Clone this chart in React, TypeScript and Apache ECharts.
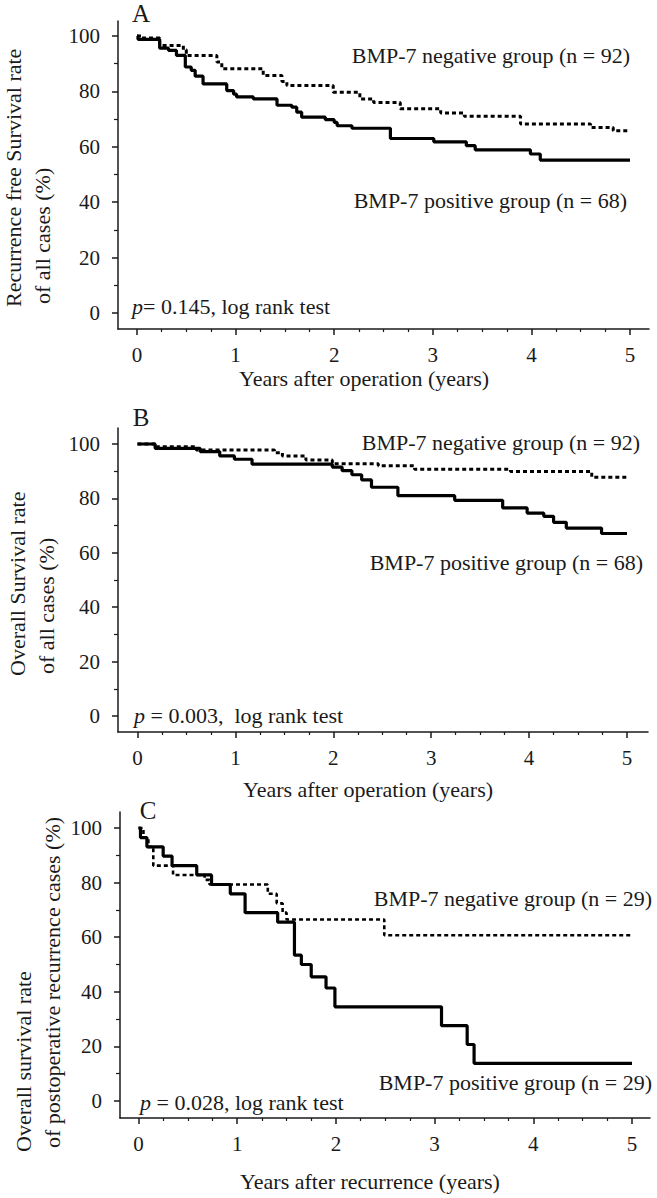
import React, { useEffect, useRef } from "react";
import * as echarts from "echarts";

// ---------- DATA ----------
// Panel A: recurrence-free survival, all cases
const aPosTime = [0, 0.01, 0.23, 0.32, 0.40, 0.49, 0.55, 0.59, 0.67, 0.91, 0.98, 1.01, 1.18, 1.42, 1.57, 1.62, 1.67, 1.91, 2.0, 2.03, 2.18, 2.57, 3.01, 3.34, 3.43, 3.99, 4.09, 5.0];
const aPosRate = [100, 98.8, 95.6, 94.8, 93.0, 88.8, 87.6, 85.5, 82.7, 80.3, 79.0, 78.0, 77.3, 75.0, 74.3, 72.5, 70.7, 69.8, 68.8, 67.6, 66.7, 63.0, 61.8, 60.4, 58.9, 57.4, 55.2, 55.2];
const aNegTime = [0, 0.05, 0.23, 0.47, 0.5, 0.81, 0.86, 1.28, 1.47, 1.52, 1.99, 2.26, 2.4, 2.67, 3.08, 3.32, 3.89, 4.6, 4.83, 5.0];
const aNegRate = [100, 99.3, 96.6, 95.0, 93.0, 90.6, 88.2, 85.7, 83.6, 82.1, 79.7, 77.3, 76.0, 73.7, 72.2, 71.0, 68.2, 67.0, 65.8, 65.8];

// Panel B: overall survival, all cases
const bPosTime = [0, 0.18, 0.64, 0.84, 0.99, 1.17, 1.99, 2.09, 2.19, 2.29, 2.39, 2.66, 3.24, 3.73, 3.98, 4.15, 4.25, 4.38, 4.74, 5.0];
const bPosRate = [100, 98.4, 97.2, 95.6, 94.4, 92.6, 91.5, 90.2, 88.7, 86.8, 84.1, 81.0, 79.3, 76.5, 74.6, 73.4, 71.2, 69.1, 67.1, 67.1];
const bNegTime = [0, 0.2, 0.6, 1.4, 1.48, 1.72, 1.99, 2.46, 2.83, 3.81, 4.64, 5.0];
const bNegRate = [100, 99.0, 97.8, 96.8, 95.6, 94.1, 92.7, 92.0, 90.7, 89.9, 87.8, 87.8];

// Panel C: overall survival, postoperative recurrence cases
const cPosTime = [0, 0.02, 0.085, 0.25, 0.34, 0.59, 0.74, 0.93, 1.08, 1.41, 1.58, 1.65, 1.75, 1.9, 1.99, 3.07, 3.33, 3.40, 5.0];
const cPosRate = [100, 96.5, 93.1, 89.7, 86.2, 82.8, 79.3, 75.9, 69.0, 65.5, 53.4, 50.0, 45.5, 41.4, 34.5, 27.6, 20.7, 13.8, 13.8];
const cNegTime = [0, 0.05, 0.1, 0.15, 0.35, 0.67, 0.72, 1.31, 1.40, 1.46, 1.5, 2.49, 5.0];
const cNegRate = [100, 96.5, 93.1, 86.2, 82.8, 81.0, 79.3, 75.9, 72.4, 69.0, 66.5, 60.7, 60.7];

const xTicks = [0, 1, 2, 3, 4, 5];
const xMinorTicks = [0.25, 0.5, 0.75, 1.25, 1.5, 1.75, 2.25, 2.5, 2.75, 3.25, 3.5, 3.75, 4.25, 4.5, 4.75];
const yTicks = [0, 20, 40, 60, 80, 100];
const yMinorTicks = [10, 30, 50, 70, 90];

const panelLetters = ["A", "B", "C"];
const xTitles = ["Years after operation (years)", "Years after operation (years)", "Years after recurrence (years)"];
const yTitles = [
  ["Recurrence free Survival rate", "of all cases (%)"],
  ["Overall Survival rate", "of all cases (%)"],
  ["Overall survival rate", "of postoperative recurrence cases (%)"],
];
const pTexts = ["{i|p}= 0.145, log rank test", "{i|p} = 0.003,  log rank test", "{i|p} = 0.028, log rank test"];
const negLabels = ["BMP-7 negative group (n = 92)", "BMP-7 negative group (n = 92)", "BMP-7 negative group (n = 29)"];
const posLabels = ["BMP-7 positive group (n = 68)", "BMP-7 positive group (n = 68)", "BMP-7 positive group (n = 29)"];

// ---------- LAYOUT ----------
const FONT = '"Liberation Serif", "Times New Roman", serif';
const INK = "#1a1a1a";

// pixel geometry of each panel
const panels = [
  { left: 118, top: 21, right: 649, bottom: 329, x0: 137, x5: 630, y0: 313, y100: 36 },
  { left: 118, top: 428, right: 648, bottom: 732, x0: 137.5, x5: 627, y0: 716, y100: 444 },
  { left: 120, top: 812, right: 650, bottom: 1118, x0: 138.5, x5: 632, y0: 1101, y100: 828 },
];

const zip = (t: number[], v: number[]) => t.map((x, i) => [x, v[i]]);

export default function App() {
  const ref = useRef<HTMLDivElement>(null);
  useEffect(() => {
    if (!ref.current) return;
    const chart = echarts.init(ref.current, null, { renderer: "svg" });

    const grids: any[] = [];
    const xAxes: any[] = [];
    const yAxes: any[] = [];
    panels.forEach((p) => {
      grids.push({ left: p.left, top: p.top, width: p.right - p.left, height: p.bottom - p.top });
      const pxPerYear = (p.x5 - p.x0) / 5;
      const xmin = (p.left - p.x0) / pxPerYear;
      const xmax = (p.right - p.x0) / pxPerYear;
      const pxPerUnit = (p.y0 - p.y100) / 100;
      const ymax = (p.y0 - p.top) / pxPerUnit;
      const ymin = (p.y0 - p.bottom) / pxPerUnit;
      const gi = grids.length - 1;
      xAxes.push({
        type: "value", gridIndex: gi, min: xmin, max: xmax,
        axisLine: { show: true, onZero: false, lineStyle: { color: INK, width: 1.5 } },
        axisTick: { show: true, customValues: xTicks, length: 6, lineStyle: { color: INK, width: 1.5 } },
        axisLabel: { show: true, customValues: xTicks, margin: 15, fontSize: 21, fontFamily: FONT, color: INK },
        splitLine: { show: false },
      });
      xAxes.push({
        type: "value", gridIndex: gi, min: xmin, max: xmax, position: "bottom",
        axisLine: { show: false, onZero: false },
        axisTick: { show: true, customValues: xMinorTicks, length: 3, lineStyle: { color: INK, width: 1.2 } },
        axisLabel: { show: false, customValues: xMinorTicks },
        splitLine: { show: false },
      });
      yAxes.push({
        type: "value", gridIndex: gi, min: ymin, max: ymax,
        axisLine: { show: true, onZero: false, lineStyle: { color: INK, width: 1.5 } },
        axisTick: { show: true, customValues: yTicks, length: 6, lineStyle: { color: INK, width: 1.5 } },
        axisLabel: { show: true, customValues: yTicks, margin: 18, fontSize: 21, fontFamily: FONT, color: INK },
        splitLine: { show: false },
      });
      yAxes.push({
        type: "value", gridIndex: gi, min: ymin, max: ymax, position: "left",
        axisLine: { show: false, onZero: false },
        axisTick: { show: true, customValues: yMinorTicks, length: 4, lineStyle: { color: INK, width: 1.2 } },
        axisLabel: { show: false, customValues: yMinorTicks },
        splitLine: { show: false },
      });
    });

    const solid = { color: "#000", width: 3.2 };
    const dotted = { color: "#000", width: 3, type: [4, 3] as any };
    const mk = (name: string, data: number[][], pi: number, ls: any) => ({
      name, type: "line", step: "end", symbol: "none", data,
      xAxisIndex: pi * 2, yAxisIndex: pi * 2, lineStyle: ls, silent: true,
    });
    const series = [
      mk("A negative", zip(aNegTime, aNegRate), 0, dotted),
      mk("A positive", zip(aPosTime, aPosRate), 0, solid),
      mk("B negative", zip(bNegTime, bNegRate), 1, dotted),
      mk("B positive", zip(bPosTime, bPosRate), 1, solid),
      mk("C negative", zip(cNegTime, cNegRate), 2, { ...dotted, width: 2.6 }),
      mk("C positive", zip(cPosTime, cPosRate), 2, solid),
    ];

    const txt = (text: string, x: number, y: number, extra: any = {}) => ({
      type: "text", x, y, rotation: extra.rotation || 0, silent: true,
      style: {
        text, fill: INK, fontSize: extra.fontSize || 22, fontFamily: FONT,
        align: extra.align || "left", verticalAlign: extra.verticalAlign || "middle",
        rich: extra.rich,
      },
    });
    const rich = { i: { fontStyle: "italic", fontSize: 22, fontFamily: FONT, fill: INK } };

    const letterPos = [[141, 13], [141, 417], [148, 810]];
    const xTitlePos = [[364, 378], [368, 789], [370, 1181]];
    const yTitlePos = [
      [[13, 307], [42, 304]],
      [[17, 676], [46, 674]],
      [[23, 1152], [52, 1148]],
    ];
    const pPos = [[132, 306], [134, 715], [140, 1102]];
    const negPos = [[630, 55], [640, 442], [652, 898]];
    const posPos = [[627, 200], [643, 562], [652, 1082]];

    const graphics: any[] = [];
    for (let i = 0; i < 3; i++) {
      graphics.push(txt(panelLetters[i], letterPos[i][0], letterPos[i][1], { align: "center", fontSize: 25 }));
      graphics.push(txt(xTitles[i], xTitlePos[i][0], xTitlePos[i][1], { align: "center" }));
      graphics.push(txt(yTitles[i][0], yTitlePos[i][0][0], yTitlePos[i][0][1], { rotation: Math.PI / 2 }));
      graphics.push(txt(yTitles[i][1], yTitlePos[i][1][0], yTitlePos[i][1][1], { rotation: Math.PI / 2 }));
      graphics.push(txt(pTexts[i], pPos[i][0], pPos[i][1], { rich }));
      graphics.push(txt(negLabels[i], negPos[i][0], negPos[i][1], { align: "right" }));
      graphics.push(txt(posLabels[i], posPos[i][0], posPos[i][1], { align: "right" }));
    }

    chart.setOption({
      animation: false,
      backgroundColor: "#ffffff",
      grid: grids,
      xAxis: xAxes,
      yAxis: yAxes,
      series,
      graphic: graphics,
    });
    return () => chart.dispose();
  }, []);
  return <div ref={ref} style={{ position: "absolute", left: 0, top: 0, width: 657, height: 1198 }} />;
}
